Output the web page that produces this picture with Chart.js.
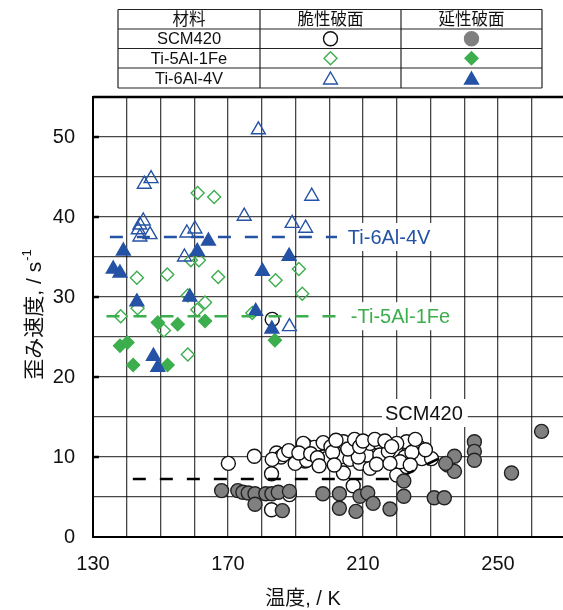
<!DOCTYPE html>
<html>
<head>
<meta charset="utf-8">
<script src="https://cdn.jsdelivr.net/npm/chart.js@4/dist/chart.umd.min.js"></script>
<style>
  html, body { margin: 0; padding: 0; background: #fff; overflow: hidden; }
  canvas { display: block; }
</style>
</head>
<body>
<canvas id="strainChart" width="575" height="610"></canvas>
<script>
// --- data (温度 K, 歪み速度 s^-1) ---
const scmBrittle = [
  [170.1, 9.2], [177.8, 10.1], [182.9, 7.9], [182.9, 3.4], [188.2, 5.3], [183.1, 27.2],
  [207.1, 6.4], [220, 7.75], [204.2, 8.0], [222.9, 8.8],
  [184.4, 10.5], [185.7, 10.0], [183.1, 9.7], [189.9, 10.0], [192.8, 11.5], [195.6, 11.2],
  [198.2, 11.8], [192.8, 9.5], [198.2, 10.0], [189.9, 9.2], [204.2, 11.9], [200.5, 11.3],
  [199.2, 9.8], [203.2, 10.0], [206.1, 9.7], [209.1, 9.2], [212.1, 8.6], [211.1, 10.25],
  [212.1, 11.7], [215, 11.7], [215, 10.25], [220, 10.5], [222.9, 11.9], [220, 11.7],
  [226.4, 11.3], [222.4, 10.0], [227.4, 9.8], [230.3, 9.8], [208.6, 10.0], [217.5, 10.7],
  [192.3, 11.7], [193.3, 9.6], [186.5, 10.3], [188, 10.8], [191, 10.5], [194.5, 10.4],
  [196.5, 9.9], [201, 10.6], [202, 12.1], [205.5, 11.0], [207.5, 12.2], [209, 11.3],
  [210, 12.0], [213.5, 12.2], [216.5, 12.0], [218.5, 11.3], [221, 9.4], [224.5, 10.6],
  [225.5, 12.2], [228.5, 10.9], [224, 9.0], [214, 9.1], [218, 9.2], [201.5, 9.0], [197, 8.9]
];
const scmDuctile = [
  [168.1, 5.8], [172.9, 5.8], [174.4, 5.6], [176, 5.5], [178, 5.4], [181.2, 5.4], [183, 5.4],
  [184.9, 5.6], [188.2, 5.7], [178, 4.1], [186.1, 3.3], [198.1, 5.4], [203, 5.4], [209.1, 5.1],
  [211.4, 5.5], [213, 4.2], [203, 3.6], [207.9, 3.2], [218, 3.5], [222.1, 5.1], [222.1, 7.0],
  [231.1, 4.9], [234.1, 4.9], [235.1, 9.0], [237.1, 10.1], [237.1, 8.2], [243, 11.9],
  [243, 10.7], [243, 9.6], [234.5, 9.2], [254, 8.0], [262.9, 13.2]
];
const feBrittle = [
  [161, 43.0], [165.9, 42.5], [159, 34.6], [161.4, 34.6], [143, 32.4], [152, 32.8],
  [167.1, 32.5], [184.1, 32.1], [191, 33.5], [192, 30.4], [158.1, 30.2], [163.2, 29.3],
  [160.9, 28.4], [143.2, 28.6], [138.2, 27.6], [177.2, 28.0], [151, 25.8], [158.1, 22.8]
];
const feDuctile = [
  [149.2, 26.8], [155.1, 26.6], [163.2, 27.0], [138, 23.9], [140.2, 24.3], [141.9, 21.5],
  [152.1, 21.5], [183.9, 24.6]
];
const vBrittle = [
  [179, 50.9], [147.2, 44.8], [145.2, 44.1], [194.8, 42.6], [174.8, 40.1], [144.9, 39.5],
  [143.9, 39.0], [143.4, 38.4], [146.9, 37.8], [143.9, 37.5], [157.8, 38.0], [160.2, 38.5],
  [189, 39.2], [193, 38.6], [157.1, 35.0], [188.2, 26.3]
];
const vDuctile = [
  [139, 35.75], [136, 33.5], [138, 33.0], [164.2, 37.0], [160.9, 35.7], [180.2, 33.2],
  [188.1, 35.1], [143, 29.4], [158.7, 30.0], [178.2, 28.2], [183, 26.0], [147.9, 22.6],
  [149.2, 21.2]
];
// average lines
const vMeanLine = [[135, 37.5], [202.3, 37.5]];
const feMeanLine = [[134, 27.6], [206.4, 27.6]];
const scmMeanLine = [[141.8, 7.25], [220, 7.25], [237.8, 10.9]];

const xTicks = [130, 170, 210, 250];
const materials = ['SCM420', 'Ti-5Al-1Fe', 'Ti-6Al-4V'];
const tableHead = ['材料', '脆性破面', '延性破面'];

const BLUE = '#2452a5';
const GREEN = '#3cae4e';
const GRAY = '#808080';
const FONT = '"Liberation Sans", Arial, "Noto Sans CJK JP", sans-serif';

const toXY = arr => arr.map(p => ({ x: p[0], y: p[1] }));

function pointSet(label, data, style, fill, border, radius, order) {
    return {
        label: label,
        data: toXY(data),
        pointStyle: style,
        pointRadius: radius,
        pointBackgroundColor: fill,
        pointBorderColor: border,
        pointBorderWidth: 1.4,
        showLine: false,
        order: order
    };
}

function meanLine(data, color) {
    return {
        type: 'line',
        data: toXY(data),
        borderColor: color,
        borderWidth: 2.6,
        borderDash: [13, 14],
        pointRadius: 0,
        fill: false,
        tension: 0,
        order: 2
    };
}

// table, axis titles, line labels
const decorPlugin = {
    id: 'decor',
    afterDraw(chart) {
        const ctx = chart.ctx;
        const xs = chart.scales.x, ys = chart.scales.y;
        const area = chart.chartArea;
        ctx.save();

        // thick top border of plot
        ctx.strokeStyle = '#000';
        ctx.lineWidth = 2.5;
        ctx.beginPath();
        ctx.moveTo(area.left, area.top);
        ctx.lineTo(area.right, area.top);
        ctx.stroke();

        // short major ticks on the y axis
        ctx.lineWidth = 2.5;
        [10, 20, 30, 40, 50].forEach(v => {
            const py = ys.getPixelForValue(v);
            ctx.beginPath();
            ctx.moveTo(area.left, py);
            ctx.lineTo(area.left + 6, py);
            ctx.stroke();
        });

        // labels for mean lines
        const tags = [
            { text: 'Ti-6Al-4V', x: 205.5, y: 37.5, color: BLUE },
            { text: '-Ti-5Al-1Fe', x: 206.4, y: 27.6, color: GREEN },
            { text: 'SCM420', x: 216.5, y: 15.5, color: '#111' }
        ];
        ctx.font = '20px ' + FONT;
        ctx.textBaseline = 'middle';
        ctx.textAlign = 'left';
        tags.forEach(t => {
            const px = xs.getPixelForValue(t.x);
            const py = ys.getPixelForValue(t.y);
            const w = ctx.measureText(t.text).width;
            ctx.fillStyle = '#fff';
            ctx.fillRect(px - 3, py - 14, w + 8, 28);
            ctx.fillStyle = t.color;
            ctx.fillText(t.text, px, py + 1);
        });

        // axis titles
        ctx.fillStyle = '#111';
        ctx.font = '20px ' + FONT;
        ctx.textAlign = 'center';
        ctx.fillText('温度, / K', 303, 599);

        ctx.save();
        ctx.translate(35, 315);
        ctx.rotate(-Math.PI / 2);
        const main = '歪み速度, / s';
        ctx.font = '21px ' + FONT;
        const mw = ctx.measureText(main).width;
        ctx.font = '13px ' + FONT;
        const sw = ctx.measureText('-1').width;
        const start = -(mw + sw) / 2;
        ctx.textAlign = 'left';
        ctx.font = '21px ' + FONT;
        ctx.fillText(main, start, 0);
        ctx.font = '13px ' + FONT;
        ctx.fillText('-1', start + mw + 1, -8);
        ctx.restore();

        // legend table
        const cols = [118, 260, 401, 542];
        const rows = [9.5, 29, 48.5, 68, 88];
        ctx.strokeStyle = '#222';
        ctx.lineWidth = 1.2;
        rows.forEach(r => {
            ctx.beginPath();
            ctx.moveTo(cols[0], r);
            ctx.lineTo(cols[3], r);
            ctx.stroke();
        });
        cols.forEach(c => {
            ctx.beginPath();
            ctx.moveTo(c, rows[0]);
            ctx.lineTo(c, rows[4]);
            ctx.stroke();
        });
        ctx.fillStyle = '#111';
        ctx.textAlign = 'center';
        ctx.font = '16.5px ' + FONT;
        tableHead.forEach((h, i) => {
            ctx.fillText(h, (cols[i] + cols[i + 1]) / 2, (rows[0] + rows[1]) / 2 + 1);
        });
        materials.forEach((m, i) => {
            ctx.fillStyle = '#111';
            ctx.fillText(m, (cols[0] + cols[1]) / 2, (rows[i + 1] + rows[i + 2]) / 2 + 1);
        });
        const cy = i => (rows[i + 1] + rows[i + 2]) / 2;
        const c1 = (cols[1] + cols[2]) / 2, c2 = (cols[2] + cols[3]) / 2;
        const marks = [
            [{ pointStyle: 'circle', radius: 7, borderWidth: 1.4 }, '#fff', '#111', { pointStyle: 'circle', radius: 7, borderWidth: 1 }, GRAY, GRAY],
            [{ pointStyle: 'rectRot', radius: 6.5, borderWidth: 1.4 }, 'rgba(0,0,0,0)', GREEN, { pointStyle: 'rectRot', radius: 6.5, borderWidth: 1 }, GREEN, GREEN],
            [{ pointStyle: 'triangle', radius: 8, borderWidth: 1.4 }, 'rgba(0,0,0,0)', BLUE, { pointStyle: 'triangle', radius: 8, borderWidth: 1 }, BLUE, BLUE]
        ];
        marks.forEach((mk, i) => {
            ctx.fillStyle = mk[1];
            ctx.strokeStyle = mk[2];
            ctx.lineWidth = 1.4;
            Chart.helpers.drawPoint(ctx, Object.assign({ rotation: 0 }, mk[0]), c1, cy(i) + (i === 2 ? 2 : 0));
            ctx.fillStyle = mk[4];
            ctx.strokeStyle = mk[5];
            Chart.helpers.drawPoint(ctx, Object.assign({ rotation: 0 }, mk[3]), c2, cy(i) + (i === 2 ? 2 : 0));
        });

        ctx.restore();
    }
};

const gridColor = 'rgba(0,0,0,0.72)';

new Chart(document.getElementById('strainChart'), {
    type: 'scatter',
    data: {
        datasets: [
            pointSet('SCM420 脆性', scmBrittle, 'circle', '#fff', '#111', 7, 9),
            meanLine(scmMeanLine, '#000'),
            pointSet('SCM420 延性', scmDuctile, 'circle', GRAY, '#222', 7, 1),
            pointSet('Ti-5Al-1Fe 脆性', feBrittle, 'rectRot', 'rgba(0,0,0,0)', GREEN, 6.5, 6),
            pointSet('Ti-5Al-1Fe 延性', feDuctile, 'rectRot', GREEN, GREEN, 6.5, 5),
            pointSet('Ti-6Al-4V 脆性', vBrittle, 'triangle', 'rgba(0,0,0,0)', BLUE, 8, 4),
            pointSet('Ti-6Al-4V 延性', vDuctile, 'triangle', BLUE, BLUE, 8, 3),
            meanLine(feMeanLine, GREEN),
            meanLine(vMeanLine, BLUE)
        ]
    },
    options: {
        responsive: false,
        animation: false,
        layout: { padding: { top: 97, right: 9.5, left: 0, bottom: 0 } },
        plugins: {
            legend: { display: false },
            tooltip: { enabled: false }
        },
        scales: {
            x: {
                type: 'linear',
                min: 130,
                max: 270,
                afterFit: scale => { scale.height = 73; scale.paddingRight = 0; },
                grid: { color: gridColor, lineWidth: 1.3, drawTicks: false },
                border: { color: '#000', width: 2 },
                ticks: {
                    stepSize: 10,
                    autoSkip: false,
                    maxRotation: 0,
                    padding: 15,
                    color: '#111',
                    font: { size: 20, family: FONT },
                    callback: v => xTicks.includes(v) ? String(v) : ''
                }
            },
            y: {
                min: 0,
                max: 55,
                afterFit: scale => { scale.width = 93; },
                grid: { color: gridColor, lineWidth: 1.3, drawTicks: false },
                border: { color: '#000', width: 2 },
                ticks: {
                    stepSize: 5,
                    autoSkip: false,
                    padding: 18,
                    color: '#111',
                    font: { size: 20, family: FONT },
                    callback: v => v % 10 === 0 && v <= 50 ? String(v) : ''
                }
            }
        }
    },
    plugins: [decorPlugin]
});
</script>
</body>
</html>
